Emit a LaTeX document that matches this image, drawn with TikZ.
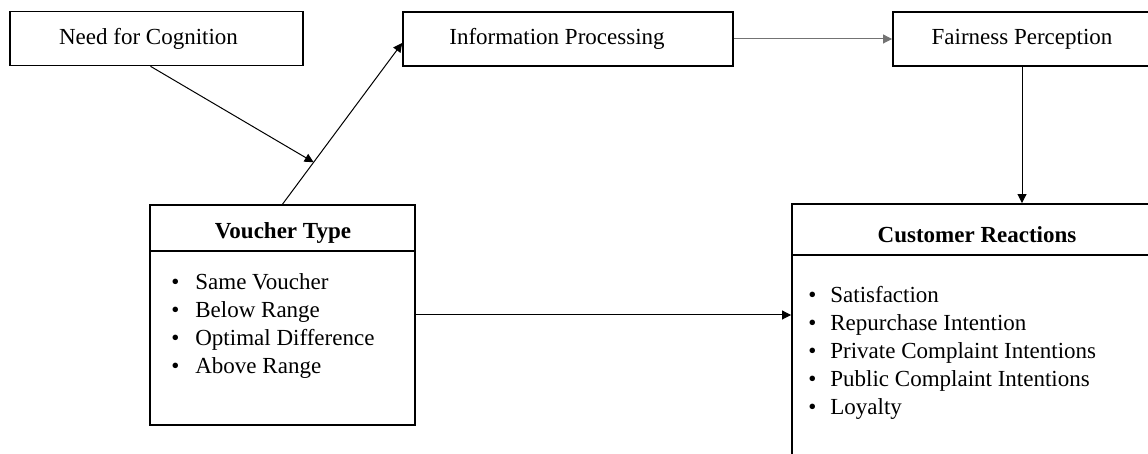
\documentclass[tikz,border=0pt]{standalone}
\usepackage{fontspec}
\setmainfont{Liberation Serif}
\usepackage{tikz}
\usetikzlibrary{arrows.meta, positioning}

\begin{document}
\begin{tikzpicture}[
  x=0.5pt, y=-0.5pt,
  box/.style={draw, line width=0.8pt, minimum height=27pt, inner sep=0pt,
              font=\fontsize{11.5}{14}\selectfont},
  head/.style={font=\fontsize{11.5}{14}\selectfont\bfseries, inner sep=0pt},
  item/.style={font=\fontsize{11.5}{14}\selectfont, inner sep=0pt, anchor=base west},
  arr/.style={-{Triangle[length=4.5pt, width=4.4pt]}, line width=0.5pt}
]
  \useasboundingbox (0,0) rectangle (1148,454);
  \clip (0,0) rectangle (1148,454);
  % Top row boxes
  \node[box, minimum width=146.5pt] (nfc) at (156.5, 38.5) {Need for Cognition\hspace*{8pt}};
  \node[box, minimum width=165pt]   (ip)  at (568, 39) {Information Processing\hspace*{11pt}};
  \node[box, minimum width=129pt]   (fp)  at (1022, 39) {Fairness Perception};
  % Voucher type box with list
  \node[box, minimum width=132.5pt, minimum height=110pt] (vt) at (282.5, 315) {};
  \node[head] (vthead) at (283, 233) {Voucher Type};
  \draw[line width=0.8pt] (vt.west |- 0,251) -- (vt.east |- 0,251);
  \foreach \txt [count=\i] in {Same Voucher, Below Range, Optimal Difference, Above Range} {
    \node[item] (vt\i) at (171, 262+28*\i) {\makebox[12pt][l]{\textbullet}\txt};
  }
  % Customer reactions box with list
  \node[box, minimum width=185pt, minimum height=138pt] (cr) at (977, 342) {};
  \node[head] (crhead) at (977, 235) {Customer Reactions};
  \draw[line width=0.8pt] (cr.west |- 0,255) -- (cr.east |- 0,255);
  \foreach \txt [count=\i] in {Satisfaction, Repurchase Intention, Private Complaint Intentions,
                               Public Complaint Intentions, Loyalty} {
    \node[item] (cr\i) at (808, 275+28*\i) {\makebox[11pt][l]{\textbullet}\txt};
  }
  % Connectors
  \draw[arr] (vt.north) -- coordinate[pos=0.26] (meet) ([yshift=-2pt]ip.west);
  \draw[arr] ([xshift=-3pt]nfc.south) -- (meet);
  \draw[arr, draw=black!55] (ip.east) -- (fp.west);
  \draw[arr] (fp.south) -- (fp.south |- cr.north);
  \draw[arr] (vt.east) -- (vt.east -| cr.west);
\end{tikzpicture}
\end{document}
